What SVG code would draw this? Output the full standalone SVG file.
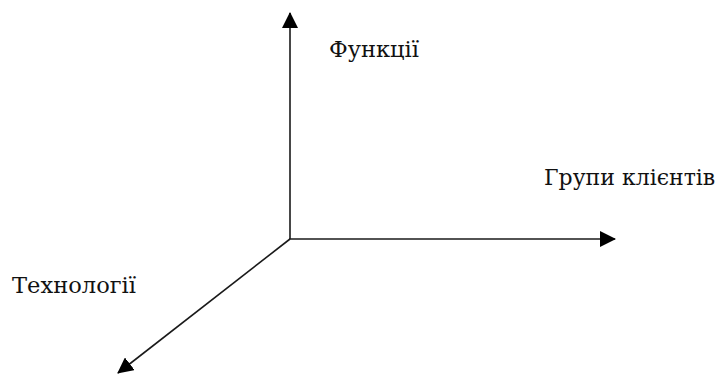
<svg xmlns="http://www.w3.org/2000/svg" width="721" height="376" viewBox="0 0 721 376">
<style>
.ax{stroke:#1a1a1a;stroke-width:1.6;fill:none}
text{font-family:"DejaVu Serif",serif;font-size:23px;fill:#111}
</style>
<defs>
<marker id="ah" viewBox="0 0 16 16" refX="15" refY="8" markerWidth="16" markerHeight="16" markerUnits="userSpaceOnUse" orient="auto">
<path d="M0,0 L16,8 L0,16 Z" fill="#000"/>
</marker>
</defs>
<rect width="721" height="376" fill="#fff"/>
<g id="connectors">
<line class="ax" x1="290" y1="239" x2="290" y2="13" marker-end="url(#ah)"/>
<line class="ax" x1="289" y1="239" x2="615" y2="239" marker-end="url(#ah)"/>
<line class="ax" x1="290" y1="239" x2="118" y2="373" marker-end="url(#ah)"/>
</g>
<g id="functions"><text x="329" y="57" textLength="90" lengthAdjust="spacingAndGlyphs">Функції</text></g>
<g id="clients"><text x="544" y="185" style="font-size:22px">Групи клієнтів</text></g>
<g id="technologies"><text x="12" y="293" textLength="124" lengthAdjust="spacingAndGlyphs">Технології</text></g>
</svg>
